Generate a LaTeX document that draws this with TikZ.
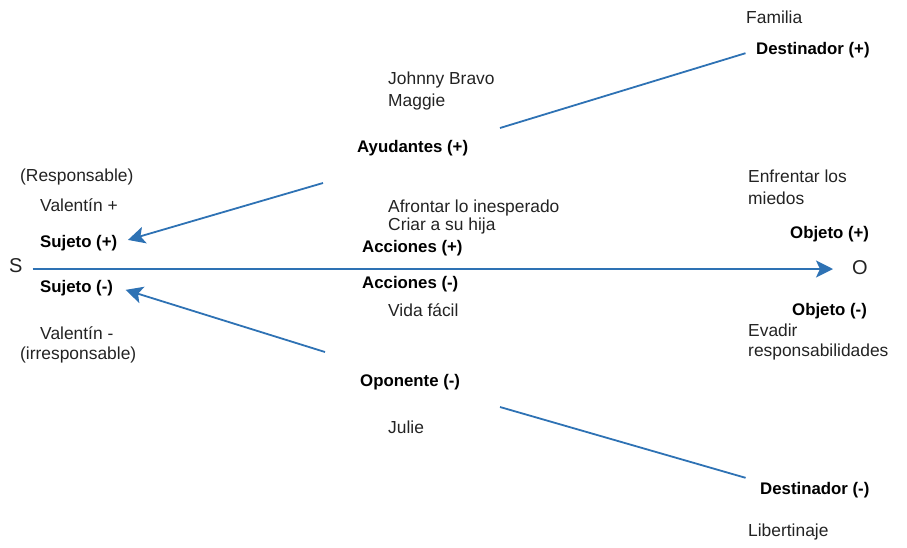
\documentclass[tikz,border=0pt]{standalone}
\usepackage{fontspec}
\setmainfont{Liberation Sans}
\usepackage{xcolor}
\usetikzlibrary{arrows.meta, positioning}
\definecolor{greimasblue}{RGB}{46, 114, 180}
\definecolor{greimastext}{RGB}{35, 35, 35}

\tikzset{
  lbl/.style={anchor=west, inner sep=0pt, text=greimastext, font=\fontsize{17.4}{20}\selectfont},
  actant/.style={lbl, text=black, font=\fontsize{16.8}{20}\selectfont\bfseries},
  letter/.style={lbl, font=\fontsize{20}{22}\selectfont},
  link/.style={greimasblue, line width=1.8pt},
  arrowlink/.style={link, -{Stealth[length=17pt, width=17pt, inset=4pt]}}
}

\begin{document}
\begin{tikzpicture}[x=1pt, y=-1pt]
      \useasboundingbox (0,0) rectangle (907,547);

      % destinador (+)
      \node[lbl] (familia) at (746,17) {Familia};
      \node[actant] (destpos) at (756,50) {Destinador (+)};

      % ayudantes
      \node[lbl] (johnny) at (388,80) {Johnny Bravo};
      \node[lbl] (maggie) at (388,102) {Maggie};
      \node[actant] (ayud) at (357,148) {Ayudantes (+)};

      % sujeto
      \node[lbl] (resp) at (20,177) {(Responsable)};
      \node[lbl] (valpos) at (40,205) {Valentín +};
      \node[actant] (sujpos) at (40,243) {Sujeto (+)};
      \node[letter] (S) at (9,266) {S};
      \node[actant] (sujneg) at (40,288) {Sujeto (-)};
      \node[lbl] (valneg) at (40,333) {Valentín -};
      \node[lbl] (irresp) at (20,355) {(irresponsable)};

      % acciones
      \node[lbl] (afrontar) at (388,208) {Afrontar lo inesperado};
      \node[lbl] (criar) at (388,226) {Criar a su hija};
      \node[actant] (accpos) at (362,248) {Acciones (+)};
      \node[actant] (accneg) at (362,284) {Acciones (-)};
      \node[lbl] (vida) at (388,310) {Vida fácil};

      % objeto
      \node[lbl] (enfrentar) at (748,176) {Enfrentar los};
      \node[lbl] (miedos) at (748,198) {miedos};
      \node[actant] (objpos) at (790,234) {Objeto (+)};
      \node[letter] (O) at (852,268) {O};
      \node[actant] (objneg) at (792,311) {Objeto (-)};
      \node[lbl] (evadir) at (748,330) {Evadir};
      \node[lbl] (respons) at (748,352) {responsabilidades};

      % oponente
      \node[actant] (opon) at (360,382) {Oponente (-)};
      \node[lbl] (julie) at (388,427) {Julie};

      % destinador (-)
      \node[actant] (destneg) at (760,490) {Destinador (-)};
      \node[lbl] (libert) at (748,532) {Libertinaje};

      \coordinate (ayudfoot) at (500,128);
      \coordinate (ayudtail) at (323,183);
      \coordinate (opontail) at (325,352);
      \coordinate (oponfoot) at (500,407);

      \draw[link, shorten >=11pt] (ayudfoot) -- (destpos.west);
      \draw[link, shorten >=15pt] (oponfoot) -- (destneg.north west);
      \draw[arrowlink, shorten >=11pt] (ayudtail) -- (sujpos.east);
      \draw[arrowlink, shorten >=13pt] (opontail) -- ([yshift=2pt]sujneg.east);
      \draw[arrowlink, shorten <=10pt, shorten >=19pt] (S.east |- 0,269) -- (O.west |- 0,269);
    \end{tikzpicture}
\end{document}
